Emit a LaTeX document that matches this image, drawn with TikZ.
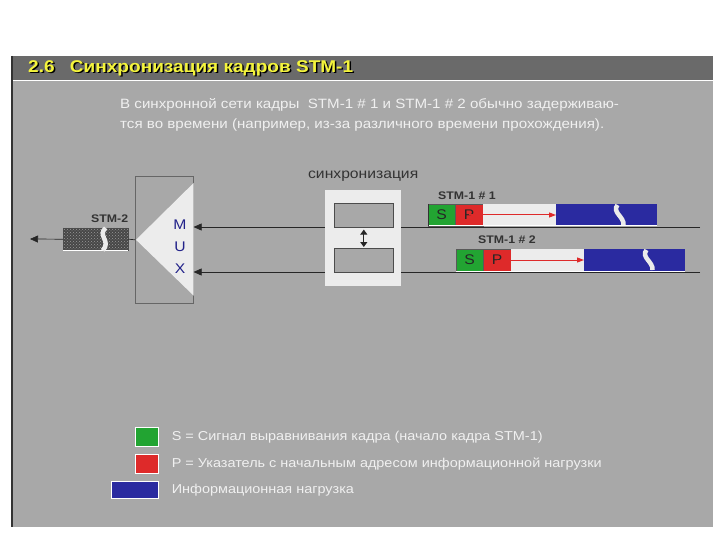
\documentclass[tikz,border=0pt]{standalone}
\usepackage{fontspec}
\setmainfont[FakeStretch=1.12]{Liberation Sans}
\usetikzlibrary{arrows.meta,positioning,patterns,calc}
\definecolor{panelgray}{HTML}{A8A8A8}
\definecolor{bargray}{HTML}{6A6A6A}
\definecolor{lightfield}{HTML}{ECECEC}
\definecolor{sgreen}{HTML}{22A432}
\definecolor{pred}{HTML}{DE2A2A}
\definecolor{payblue}{HTML}{2A2AA0}
\definecolor{muxblue}{HTML}{22228A}
\definecolor{titleyellow}{HTML}{F4F43C}

\begin{document}
\begin{tikzpicture}[
    x=1pt, y=-1pt,
    field/.style={rectangle, draw=black!65, line width=0.5pt, inner sep=0pt, outer sep=0pt, minimum height=22pt, font=\fontsize{14}{14}\selectfont, text=black!85},
    sfield/.style={field, fill=sgreen, minimum width=27pt},
    pfield/.style={field, fill=pred, minimum width=28pt},
    gapfield/.style={field, fill=lightfield, draw=none, minimum width=73pt},
    payfield/.style={field, fill=payblue, draw=none, minimum width=101pt},
    framelabel/.style={anchor=west, inner sep=0pt, font=\bfseries\fontsize{11}{11}\selectfont, text=black!80},
    wire/.style={black!85, line width=0.7pt},
    arrow/.style={wire, -{Triangle[length=8pt, width=7pt]}},
    ptrarrow/.style={draw=pred, line width=1pt, -{Triangle[length=7pt, width=5pt]}},
    squig/.style={white!92!black, line width=4.5pt},
    innerbox/.style={rectangle, draw=black!70, line width=0.6pt, fill=panelgray, minimum width=59pt, minimum height=24pt, inner sep=0pt, anchor=north west},
    legendbox/.style={rectangle, draw=white, line width=0.6pt, inner sep=0pt, anchor=north west},
    legendtext/.style={right=13pt of #1, inner sep=0pt, text=white!94!black, font=\fontsize{12.9}{14}\selectfont},
    bodytext/.style={inner sep=0pt, text=white!94!black, font=\fontsize{13.5}{20}\selectfont}
]
\useasboundingbox (0,0) rectangle (720,540);

% panel and title bar
\fill[panelgray] (12,56) rectangle (713,527);
\fill[bargray] (12,56) rectangle (713,80);
\draw[white, line width=1pt] (12,81) -- (713,81);
\draw[black!80, line width=1.2pt] (12,56) -- (12,527);
\node[anchor=west, inner sep=0pt, text=black, font=\bfseries\fontsize{17}{17}\selectfont] (titleshadow) at (29.5,69.5) {2.6\hspace{0.9em}Синхронизация кадров STM-1};
\node[anchor=west, inner sep=0pt, text=titleyellow, font=\bfseries\fontsize{17}{17}\selectfont] (title) at (28,68) {2.6\hspace{0.9em}Синхронизация кадров STM-1};

% intro text
\node[bodytext, anchor=north west, align=left] (intro) at (120,98)
  {В синхронной сети кадры\ \ STM-1 \# 1 и STM-1 \# 2 обычно задерживаю-\\
   тся во времени (например, из-за различного времени прохождения).};

% multiplexer
\node[rectangle, draw=black!60, line width=0.6pt, fill=panelgray, minimum width=58pt, minimum height=127pt, anchor=north west] (mux) at (135,176) {};
\fill[lightfield] ($(mux.west)+(1,0)$) -- ($(mux.north east)+(0,7)$) -- ($(mux.south east)+(0,-8)$) -- cycle;
\node[text=muxblue, font=\fontsize{14}{14}\selectfont] (muxM) at (180,225) {M};
\node[text=muxblue, font=\fontsize{14}{14}\selectfont, below=5pt of muxM] (muxU) {U};
\node[text=muxblue, font=\fontsize{14}{14}\selectfont, below=5pt of muxU] (muxX) {X};

% STM-2 output
\node[rectangle, fill=black!72, minimum width=65pt, minimum height=22pt, inner sep=0pt, anchor=north west] (stm2) at (63,228) {};
\fill[pattern=crosshatch dots, pattern color=black!40] (stm2.south west) rectangle (stm2.north east);
\draw[black!70, line width=0.4pt] (stm2.south west) rectangle (stm2.north east);
\draw[white, line width=1pt] (stm2.south west) -- (stm2.south east);
\draw[squig] ($(stm2.north)+(10,0)$) .. controls ($(stm2.center)+(1,-4)$) and ($(stm2.center)+(16,2)$) .. ($(stm2.south)+(7,0)$);
\node[framelabel, anchor=south east] (stm2label) at ($(stm2.north east)+(0,-5)$) {STM-2};
\coordinate (out) at (30,239);
\draw[wire] (mux.west) -- (stm2.east);
\draw[arrow] (stm2.west) -- (out);

% tributary lines into the MUX
\coordinate (end1) at (700,227);
\coordinate (end2) at (700,272);
\draw[arrow] (end1) -- (mux.east |- end1);
\draw[arrow] (end2) -- (mux.east |- end2);

% synchronisation
\node[rectangle, fill=lightfield, minimum width=76pt, minimum height=96pt, inner sep=0pt, anchor=north west] (sync) at (325,190) {};
\node[innerbox] (syncA) at (334,203) {};
\node[innerbox] (syncB) at (334,248) {};
\draw[black!85, line width=1pt, {Triangle[length=5pt, width=7pt]}-{Triangle[length=5pt, width=7pt]}] ($(syncA.south)+(0,2)$) -- ($(syncB.north)+(0,-1)$);
\node[inner sep=0pt, text=black!80, font=\fontsize{14}{14}\selectfont, above=8pt of sync] (synclabel) {синхронизация};

% STM-1 #1 frame
\node[sfield, anchor=north west] (s1) at (428,204) {S};
\node[pfield, right=0pt of s1] (p1) {P};
\node[gapfield, right=0pt of p1] (g1) {};
\node[payfield, right=0pt of g1] (y1) {};
\draw[white, line width=1pt] (s1.south west) -- (y1.south east);
\draw[black!80, line width=1pt] (s1.north west) -- (s1.south west);
\draw[squig] ($(y1.north)+(11,1)$) .. controls ($(y1.center)+(5,-3)$) and ($(y1.center)+(18,2)$) .. ($(y1.south)+(17,-1)$);
\draw[ptrarrow] (p1.center) -- (y1.west);
\node[framelabel] (lab1) at (438,196) {STM-1 \# 1};

% STM-1 #2 frame
\node[sfield, anchor=north west] (s2) at (456,249) {S};
\node[pfield, right=0pt of s2] (p2) {P};
\node[gapfield, right=0pt of p2] (g2) {};
\node[payfield, right=0pt of g2] (y2) {};
\draw[white, line width=1pt] (s2.south west) -- (y2.south east);
\draw[squig] ($(y2.north)+(12,1)$) .. controls ($(y2.center)+(6,-3)$) and ($(y2.center)+(19,2)$) .. ($(y2.south)+(18,-1)$);
\draw[ptrarrow] (p2.center) -- (y2.west);
\node[framelabel] (lab2) at (478,240) {STM-1 \# 2};

% legend
\node[legendbox, fill=sgreen, minimum width=23pt, minimum height=19pt] (legS) at (135,427) {};
\node[legendbox, fill=pred, minimum width=23pt, minimum height=19pt] (legP) at (135,454) {};
\node[legendbox, fill=payblue, minimum width=47pt, minimum height=17pt] (legY) at (111,481) {};
\node[legendtext=legS] (legStext) {S = Сигнал выравнивания кадра (начало кадра STM-1)};
\node[legendtext=legP] (legPtext) {P = Указатель с начальным адресом информационной нагрузки};
\node[legendtext=legY] (legYtext) {Информационная нагрузка};
\end{tikzpicture}
\end{document}
